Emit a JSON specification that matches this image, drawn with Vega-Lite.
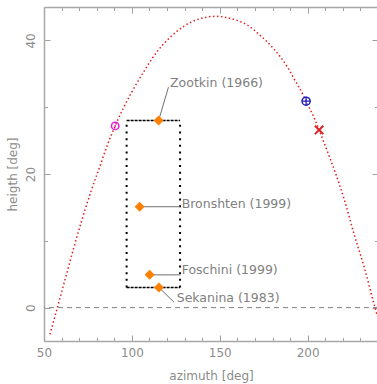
{
  "$schema": "https://vega.github.io/schema/vega-lite/v6.json",
  "width": 334,
  "height": 334,
  "autosize": "none",
  "padding": {"left": 44, "top": 7, "right": 0, "bottom": 43},
  "background": "white",
  "config": {
    "view": {"stroke": null},
    "axis": {
      "domainColor": "#a8a8a8", "domainWidth": 1.5,
      "tickColor": "#a0a0a0", "tickWidth": 1,
      "labelColor": "#8c8c8c", "titleColor": "#8c8c8c",
      "labelFont": "DejaVu Sans", "titleFont": "DejaVu Sans",
      "labelFontSize": 12, "titleFontSize": 12, "titleFontWeight": "normal",
      "grid": false, "labelFlush": false, "labelOverlap": false
    }
  },
  "datasets": {
    "curve": [
      {"az": 53.4, "h": -4.0}, {"az": 57.6, "h": 0.0}, {"az": 62.4, "h": 4.6}, {"az": 67.0, "h": 9.0},
      {"az": 72.0, "h": 13.5}, {"az": 77.0, "h": 17.6}, {"az": 82.0, "h": 21.3}, {"az": 86.0, "h": 24.3},
      {"az": 90.5, "h": 27.2}, {"az": 95.0, "h": 29.8}, {"az": 100.0, "h": 32.3}, {"az": 106.7, "h": 35.3},
      {"az": 114.0, "h": 38.2}, {"az": 121.9, "h": 40.5}, {"az": 129.5, "h": 42.1}, {"az": 137.1, "h": 43.1},
      {"az": 147.6, "h": 43.6}, {"az": 156.1, "h": 43.3}, {"az": 161.8, "h": 42.8}, {"az": 165.7, "h": 42.3},
      {"az": 173.2, "h": 40.7}, {"az": 180.8, "h": 38.7}, {"az": 188.5, "h": 36.0}, {"az": 192.6, "h": 34.1},
      {"az": 195.1, "h": 33.0}, {"az": 199.1, "h": 30.9}, {"az": 204.0, "h": 28.2}, {"az": 206.5, "h": 26.6},
      {"az": 210.9, "h": 23.6}, {"az": 216.0, "h": 20.0}, {"az": 220.8, "h": 16.2}, {"az": 226.5, "h": 10.9},
      {"az": 232.2, "h": 6.0}, {"az": 238.3, "h": 0.0}, {"az": 240.5, "h": -2.0}
    ],
    "zero": [{"h": 0}],
    "boxsides": [{"az": 97.0, "h1": 3, "h2": 28}, {"az": 127.4, "h1": 3, "h2": 28}],
    "boxlines": [{"az1": 97.0, "az2": 127.4, "h": 28}, {"az1": 97.0, "az2": 127.4, "h": 3}],
    "obs": [
      {"name": "Zootkin (1966)", "az": 115.2, "h": 28.0},
      {"name": "Bronshten (1999)", "az": 104.4, "h": 15.1},
      {"name": "Foschini (1999)", "az": 110.1, "h": 4.9},
      {"name": "Sekanina (1983)", "az": 115.4, "h": 3.0}
    ],
    "labels": [
      {"name": "Zootkin (1966)", "az": 121.7, "h": 33.6},
      {"name": "Bronshten (1999)", "az": 128.3, "h": 15.5},
      {"name": "Foschini (1999)", "az": 128.3, "h": 5.6},
      {"name": "Sekanina (1983)", "az": 125.5, "h": 1.4}
    ],
    "leaders": [
      {"az1": 115.2, "h1": 28.0, "az2": 120.8, "h2": 33.0},
      {"az1": 104.4, "h1": 15.1, "az2": 127.4, "h2": 15.1},
      {"az1": 110.1, "h1": 4.9, "az2": 127.4, "h2": 4.9},
      {"az1": 115.4, "h1": 3.0, "az2": 124.0, "h2": 0.8}
    ],
    "rise": [{"az": 90.5, "h": 27.2}],
    "cross": [{"az": 199.1, "h": 30.9}],
    "xmark": [{"az": 206.5, "h": 26.6}]
  },
  "layer": [
    {
      "data": {"name": "curve"},
      "mark": {"type": "line", "color": "#e02020", "strokeWidth": 1.5, "strokeDash": [1.5, 2.5], "clip": true, "interpolate": "monotone"},
      "encoding": {
        "x": {"field": "az", "type": "quantitative", "scale": {"domain": [50, 240], "nice": false, "zero": false},
          "axis": {"orient": "bottom", "values": [50,60,70,80,90,100,110,120,130,140,150,160,170,180,190,200,210,220,230,240],
            "labelExpr": "datum.value % 50 === 0 ? datum.label : ''",
            "tickSize": {"condition": {"test": "datum.value % 50 === 0", "value": -6}, "value": -3.5},
            "labelPadding": 12, "labelBaseline": "top", "title": "azimuth [deg]", "titlePadding": 10}},
        "y": {"field": "h", "type": "quantitative", "scale": {"domain": [-5, 45], "nice": false, "zero": false},
          "axis": {"orient": "left", "values": [0, 10, 20, 30, 40],
            "labelExpr": "datum.value % 20 === 0 ? datum.label : ''",
            "tickSize": {"condition": {"test": "datum.value % 20 === 0", "value": -6}, "value": -3.5},
            "labelAngle": -90, "labelAlign": "center", "labelBaseline": "bottom", "labelPadding": 13,
            "title": "heigth [deg]", "titlePadding": 2}},
        "order": {"field": "az", "type": "quantitative"}
      }
    },
    {
      "data": {"name": "boxsides"},
      "mark": {"type": "rule", "color": "black", "strokeWidth": 2, "strokeDash": [2, 4.7]},
      "encoding": {
        "x": {"field": "az", "type": "quantitative", "scale": {"domain": [50, 240], "nice": false, "zero": false},
          "axis": {"orient": "top", "values": [50,60,70,80,90,100,110,120,130,140,150,160,170,180,190,200,210,220,230,240],
            "labels": false, "title": null,
            "tickSize": {"condition": {"test": "datum.value % 50 === 0", "value": -6}, "value": -3.5}}},
        "y": {"field": "h1", "type": "quantitative", "scale": {"domain": [-5, 45], "nice": false, "zero": false},
          "axis": {"orient": "right", "values": [0, 10, 20, 30, 40], "labels": false, "title": null,
            "tickSize": {"condition": {"test": "datum.value % 20 === 0", "value": -6}, "value": -3.5}}},
        "y2": {"field": "h2"}
      }
    },
    {
      "data": {"name": "zero"},
      "mark": {"type": "rule", "color": "#808080", "strokeWidth": 1, "strokeDash": [5, 4]},
      "encoding": {"y": {"field": "h", "type": "quantitative", "scale": {"domain": [-5, 45], "nice": false, "zero": false}, "axis": null}}
    },
    {
      "data": {"name": "boxlines"},
      "mark": {"type": "rule", "color": "black", "strokeWidth": 1.5, "strokeDash": [3, 1]},
      "encoding": {
        "x": {"field": "az1", "type": "quantitative", "scale": {"domain": [50, 240], "nice": false, "zero": false}, "axis": null},
        "x2": {"field": "az2"},
        "y": {"field": "h", "type": "quantitative", "scale": {"domain": [-5, 45], "nice": false, "zero": false}, "axis": null}
      }
    },
    {
      "data": {"name": "leaders"},
      "mark": {"type": "rule", "color": "#707070", "strokeWidth": 1},
      "encoding": {
        "x": {"field": "az1", "type": "quantitative", "scale": {"domain": [50, 240], "nice": false, "zero": false}, "axis": null},
        "x2": {"field": "az2"},
        "y": {"field": "h1", "type": "quantitative", "scale": {"domain": [-5, 45], "nice": false, "zero": false}, "axis": null},
        "y2": {"field": "h2"}
      }
    },
    {
      "data": {"name": "obs"},
      "mark": {"type": "point", "shape": "diamond", "filled": true, "color": "#ff8000", "size": 100, "opacity": 1},
      "encoding": {
        "x": {"field": "az", "type": "quantitative", "scale": {"domain": [50, 240], "nice": false, "zero": false}, "axis": null},
        "y": {"field": "h", "type": "quantitative", "scale": {"domain": [-5, 45], "nice": false, "zero": false}, "axis": null}
      }
    },
    {
      "data": {"name": "labels"},
      "mark": {"type": "text", "align": "left", "baseline": "middle", "font": "DejaVu Sans", "fontSize": 12.5, "color": "#808080"},
      "encoding": {
        "x": {"field": "az", "type": "quantitative", "scale": {"domain": [50, 240], "nice": false, "zero": false}, "axis": null},
        "y": {"field": "h", "type": "quantitative", "scale": {"domain": [-5, 45], "nice": false, "zero": false}, "axis": null},
        "text": {"field": "name"}
      }
    },
    {
      "data": {"name": "rise"},
      "mark": {"type": "point", "shape": "circle", "filled": false, "color": "#e020e0", "strokeWidth": 1.5, "size": 55, "opacity": 1},
      "encoding": {
        "x": {"field": "az", "type": "quantitative", "scale": {"domain": [50, 240], "nice": false, "zero": false}, "axis": null},
        "y": {"field": "h", "type": "quantitative", "scale": {"domain": [-5, 45], "nice": false, "zero": false}, "axis": null}
      }
    },
    {
      "data": {"name": "rise"},
      "mark": {"type": "point", "shape": "circle", "filled": true, "color": "#e020e0", "size": 4, "opacity": 1},
      "encoding": {
        "x": {"field": "az", "type": "quantitative", "scale": {"domain": [50, 240], "nice": false, "zero": false}, "axis": null},
        "y": {"field": "h", "type": "quantitative", "scale": {"domain": [-5, 45], "nice": false, "zero": false}, "axis": null}
      }
    },
    {
      "data": {"name": "cross"},
      "mark": {"type": "point", "shape": "circle", "filled": false, "color": "#2020c0", "strokeWidth": 1.5, "size": 65, "opacity": 1},
      "encoding": {
        "x": {"field": "az", "type": "quantitative", "scale": {"domain": [50, 240], "nice": false, "zero": false}, "axis": null},
        "y": {"field": "h", "type": "quantitative", "scale": {"domain": [-5, 45], "nice": false, "zero": false}, "axis": null}
      }
    },
    {
      "data": {"name": "cross"},
      "mark": {"type": "point", "shape": "M-1,0L1,0M0,-1L0,1", "filled": false, "color": "#2020c0", "strokeWidth": 1.3, "size": 80, "opacity": 1},
      "encoding": {
        "x": {"field": "az", "type": "quantitative", "scale": {"domain": [50, 240], "nice": false, "zero": false}, "axis": null},
        "y": {"field": "h", "type": "quantitative", "scale": {"domain": [-5, 45], "nice": false, "zero": false}, "axis": null}
      }
    },
    {
      "data": {"name": "xmark"},
      "mark": {"type": "point", "shape": "M-1,-1L1,1M-1,1L1,-1", "filled": false, "color": "#e02020", "strokeWidth": 2, "size": 70, "opacity": 1},
      "encoding": {
        "x": {"field": "az", "type": "quantitative", "scale": {"domain": [50, 240], "nice": false, "zero": false}, "axis": null},
        "y": {"field": "h", "type": "quantitative", "scale": {"domain": [-5, 45], "nice": false, "zero": false}, "axis": null}
      }
    }
  ],
  "resolve": {"axis": {"x": "independent", "y": "independent"}}
}
